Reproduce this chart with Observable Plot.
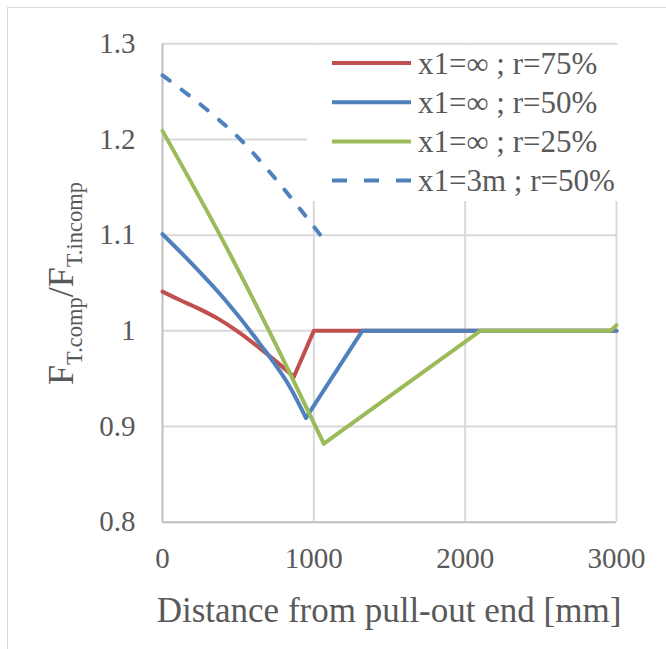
<!DOCTYPE html>
<html>
<head>
<meta charset="utf-8">
<script src="https://cdn.jsdelivr.net/npm/d3@7"></script>
<script src="https://cdn.jsdelivr.net/npm/@observablehq/plot@0.6"></script>
<style>
  body { margin: 0; background: #fff; }
  #wrap { position: relative; width: 666px; height: 649px; overflow: hidden; background: #fff; }
  #border { position: absolute; left: 7px; top: 7px; width: 720px; height: 720px;
            border-left: 1.5px solid #d9d9d9; border-top: 1.5px solid #d9d9d9; pointer-events: none; }
</style>
</head>
<body>
<div id="wrap"><div id="chart"></div><div id="border"></div></div>
<script>
// ---- data ----
const xTicks = [0, 1000, 2000, 3000];
const yTicks = [0.8, 0.9, 1.0, 1.1, 1.2, 1.3];
const seriesNames = ["x1=∞ ; r=75%", "x1=∞ ; r=50%", "x1=∞ ; r=25%", "x1=3m ; r=50%"];
const seriesColors = ["#C0504D", "#4F81BD", "#9BBB59", "#4F81BD"];
const seriesDashed = [false, false, false, true];

const r75_x = [0, 104, 236, 369, 501, 634, 766, 868, 1000, 3000];
const r75_y = [1.041, 1.033, 1.0235, 1.0125, 0.999, 0.983, 0.966, 0.952, 1.0, 1.0];

const r50_x = [0, 192, 413, 634, 854, 948, 1320, 3000];
const r50_y = [1.101, 1.0705, 1.0325, 0.9885, 0.938, 0.909, 1.0, 1.0];

const r25_x = [0, 400, 835, 1066, 2100, 2960, 3000];
const r25_y = [1.209, 1.094, 0.958, 0.882, 1.0, 1.0, 1.006];

const x3m_x = [0, 294, 515, 735, 1073];
const x3m_y = [1.267, 1.231, 1.200, 1.161, 1.094];

// index of the last point of each series' smooth (curved) stretch
const smoothEnd = [7, 5, 3, 4];

const xLabel = "Distance from pull-out end [mm]";

// ---- build rows ----
const seriesX = [r75_x, r50_x, r25_x, x3m_x];
const seriesY = [r75_y, r50_y, r25_y, x3m_y];
const rows = seriesX.map((xs, i) => xs.map((x, j) => ({x, y: seriesY[i][j], s: seriesNames[i]})));

const FONT = "'Liberation Serif', 'Times New Roman', serif";
const TXT = "#595959";
const GRID = "#d9d9d9";

const lineMarks = [];
rows.forEach((r, i) => {
  const common = {
    x: "x", y: "y",
    stroke: seriesColors[i],
    strokeWidth: 4,
    strokeLinejoin: "round",
    strokeLinecap: "round",
    strokeDasharray: seriesDashed[i] ? "9,15" : null
  };
  const k = smoothEnd[i];
  lineMarks.push(Plot.line(r.slice(0, k + 1), {...common, curve: "monotone-x"}));
  if (k < r.length - 1) lineMarks.push(Plot.line(r.slice(k), {...common, curve: "linear"}));
});

const chart = Plot.plot({
  width: 666,
  height: 649,
  marginLeft: 162,
  marginRight: 50,
  marginTop: 43.3,
  marginBottom: 127.3,
  style: {fontFamily: FONT, fontSize: "29px", color: TXT, background: "transparent"},
  x: {domain: [0, 3000]},
  y: {domain: [0.8, 1.3]},
  marks: [
    Plot.gridY(yTicks.filter(d => d > 0.8), {stroke: GRID, strokeOpacity: 1, strokeWidth: 2}),
    Plot.gridX(xTicks.filter(d => d > 0), {stroke: GRID, strokeOpacity: 1, strokeWidth: 2}),
    Plot.ruleX([0], {stroke: "#bfbfbf", strokeWidth: 2}),
    Plot.ruleY([0.8], {stroke: "#bfbfbf", strokeWidth: 2}),
    Plot.axisY(yTicks, {tickSize: 0, tickPadding: 27, tickFormat: d => d3.format("~g")(d), label: null, fontSize: 29, fill: TXT}),
    Plot.axisX(xTicks, {tickSize: 0, tickPadding: 25, tickFormat: d => String(d), label: null, fontSize: 29, fill: TXT}),
    ...lineMarks
  ]
});
document.getElementById("chart").appendChild(chart);

// ---- legend, axis titles ----
const svg = d3.select(chart);
svg.append("rect").attr("x", 307).attr("y", 45).attr("width", 359).attr("height", 156).attr("fill", "white");
const lg = svg.append("g").attr("text-anchor", "start");
seriesNames.forEach((name, i) => {
  const cy = 63 + i * 39.2;
  lg.append("line")
    .attr("x1", 332).attr("x2", 411).attr("y1", cy).attr("y2", cy)
    .attr("stroke", seriesColors[i]).attr("stroke-width", 4)
    .attr("stroke-dasharray", seriesDashed[i] ? "15,17" : null);
  lg.append("text")
    .attr("x", 418).attr("y", cy).attr("dy", "0.34em")
    .attr("text-anchor", "start")
    .attr("font-family", FONT).attr("font-size", 31).attr("fill", TXT)
    .text(name);
});

svg.append("text")
  .attr("x", 389).attr("y", 622)
  .attr("text-anchor", "middle")
  .attr("font-family", FONT).attr("font-size", 35).attr("fill", TXT)
  .text(xLabel);

const yt = svg.append("text")
  .attr("transform", "translate(73,283.5) rotate(-90)")
  .attr("text-anchor", "middle")
  .attr("font-family", FONT).attr("fill", TXT);
yt.append("tspan").attr("font-size", 36).text("F");
yt.append("tspan").attr("font-size", 22.5).attr("dy", 9).text("T.comp");
yt.append("tspan").attr("font-size", 36).attr("dy", -9).text("/F");
yt.append("tspan").attr("font-size", 22.5).attr("dy", 9).text("T.incomp");
</script>
</body>
</html>
